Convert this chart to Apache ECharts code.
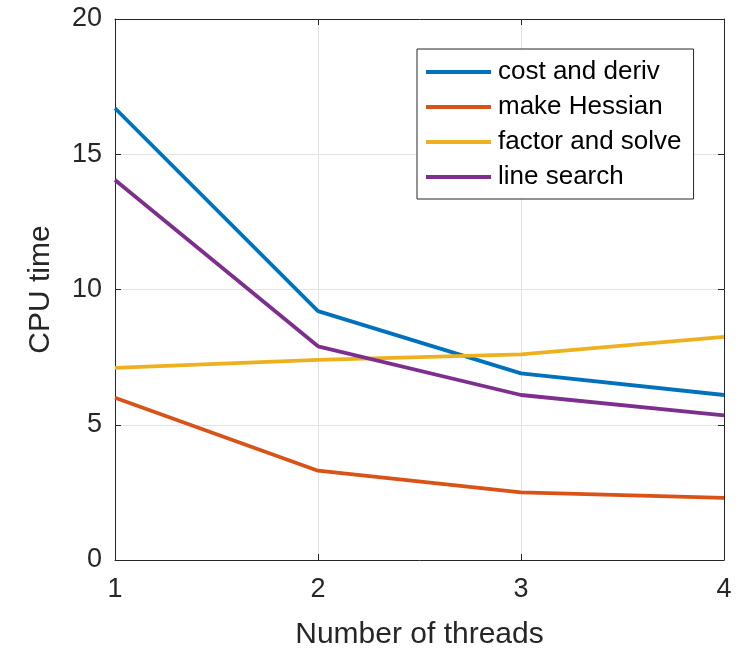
<!DOCTYPE html>
<html><head><meta charset="utf-8">
<script src="https://cdn.jsdelivr.net/npm/echarts@6/dist/echarts.min.js"></script>
<style>html,body{margin:0;padding:0;background:#fff}#c{width:751px;height:648px}</style>
</head><body><div id="c"></div>
<script>
const threads = [1, 2, 3, 4];
const seriesNames = ['cost and deriv', 'make Hessian', 'factor and solve', 'line search'];
const costDeriv = [16.7, 9.2, 6.9, 6.1];
const makeHessian = [6.0, 3.3, 2.5, 2.3];
const factorSolve = [7.1, 7.4, 7.6, 8.25];
const lineSearch = [14.05, 7.9, 6.1, 5.35];
const colors = ['#0072BD', '#D95319', '#EDB120', '#7E2F8E'];
const yTicks = [0, 5, 10, 15, 20];

const allValues = [costDeriv, makeHessian, factorSolve, lineSearch];
const font = 'Liberation Sans, Arial, sans-serif';
const chart = echarts.init(document.getElementById('c'));
const tickStyle = {show: true, inside: true, length: 6, lineStyle: {color: '#262626', width: 1}};
const lineAx = {show: true, onZero: false, lineStyle: {color: '#262626', width: 1}};
chart.setOption({
  animation: false,
  color: colors,
  grid: {left: 115, right: 27, top: 19, bottom: 88, containLabel: false, outerBoundsMode: 'none'},
  legend: {
    left: 417, top: 49, orient: 'vertical',
    data: seriesNames,
    icon: 'rect', itemWidth: 65, itemHeight: 4, itemGap: 9,
    borderColor: '#262626', borderWidth: 1, padding: [10, 12, 9, 9],
    backgroundColor: '#fff',
    textStyle: {fontFamily: font, fontSize: 26, lineHeight: 26, color: '#000', padding: [0, 0, 0, 2]}
  },
  xAxis: [{
    type: 'value', min: 1, max: 4, interval: 1, position: 'bottom',
    name: 'Number of threads', nameLocation: 'middle', nameGap: 60,
    nameTextStyle: {fontFamily: font, fontSize: 30, color: '#262626'},
    axisLine: lineAx, axisTick: tickStyle,
    axisLabel: {fontFamily: font, fontSize: 27, color: '#262626', margin: 16},
    splitLine: {show: true, lineStyle: {color: '#e3e3e3', width: 1}}
  }, {
    type: 'value', min: 1, max: 4, interval: 1, position: 'top',
    axisLine: lineAx, axisTick: tickStyle, axisLabel: {show: false}, splitLine: {show: false}
  }],
  yAxis: [{
    type: 'value', min: yTicks[0], max: yTicks[yTicks.length - 1], interval: 5, position: 'left',
    name: 'CPU time', nameLocation: 'middle', nameGap: 59,
    nameTextStyle: {fontFamily: font, fontSize: 30, color: '#262626'},
    axisLine: lineAx, axisTick: tickStyle,
    axisLabel: {fontFamily: font, fontSize: 27, color: '#262626', margin: 13},
    splitLine: {show: true, lineStyle: {color: '#e3e3e3', width: 1}}
  }, {
    type: 'value', min: 0, max: 20, interval: 5, position: 'right',
    axisLine: lineAx, axisTick: tickStyle, axisLabel: {show: false}, splitLine: {show: false}
  }],
  series: seriesNames.map((n, i) => ({
    name: n, type: 'line', xAxisIndex: 0, yAxisIndex: 0,
    data: threads.map((t, j) => [t, allValues[i][j]]),
    symbol: 'none', lineStyle: {width: 3.8, color: colors[i]}, itemStyle: {color: colors[i]}
  }))
});
</script></body></html>
